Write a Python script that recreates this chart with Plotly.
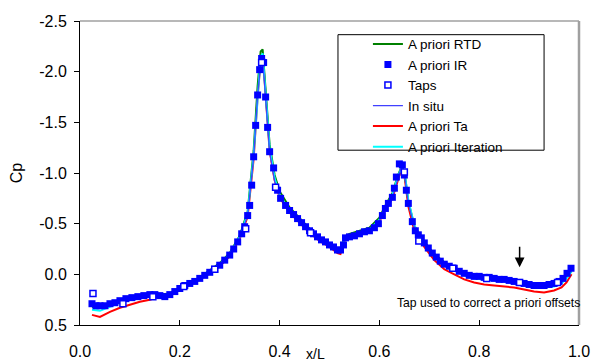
import plotly.graph_objects as go

# ---- measured data -------------------------------------------------------
# A priori IR (filled squares)
ir_x = [0.024, 0.032, 0.040, 0.050, 0.060, 0.070, 0.080, 0.092, 0.104, 0.116,
        0.128, 0.140, 0.150, 0.160, 0.170, 0.180, 0.190, 0.200, 0.210, 0.220,
        0.230, 0.240, 0.250, 0.260, 0.270, 0.280, 0.290, 0.300, 0.308, 0.316,
        0.324, 0.330, 0.336, 0.340, 0.344, 0.348, 0.352, 0.356, 0.360, 0.364,
        0.368, 0.372, 0.376, 0.380, 0.388, 0.396, 0.402, 0.412, 0.420, 0.428,
        0.436, 0.444, 0.452, 0.460, 0.468, 0.476, 0.484, 0.492, 0.500, 0.508,
        0.516, 0.522, 0.528, 0.532, 0.540, 0.550, 0.560, 0.570, 0.580, 0.590,
        0.598, 0.606, 0.612, 0.618, 0.626, 0.630, 0.634, 0.640, 0.646, 0.650,
        0.654, 0.658, 0.666, 0.672, 0.678, 0.684, 0.690, 0.698, 0.706, 0.714,
        0.722, 0.730, 0.740, 0.750, 0.760, 0.770, 0.780, 0.790, 0.800, 0.810,
        0.820, 0.830, 0.840, 0.850, 0.860, 0.870, 0.880, 0.890, 0.900, 0.910,
        0.920, 0.930, 0.940, 0.950, 0.960, 0.968, 0.976, 0.984]
ir_cp = [0.29, 0.31, 0.31, 0.31, 0.29, 0.28, 0.26, 0.24, 0.23, 0.22,
         0.21, 0.20, 0.20, 0.21, 0.22, 0.20, 0.17, 0.14, 0.11, 0.09,
         0.07, 0.04, 0.01, -0.02, -0.05, -0.09, -0.14, -0.19, -0.25, -0.32,
         -0.40, -0.47, -0.58, -0.68, -0.88, -1.16, -1.47, -1.77, -2.02, -2.13,
         -2.09, -1.75, -1.45, -1.21, -1.05, -0.83, -0.75, -0.68, -0.63, -0.59,
         -0.55, -0.51, -0.47, -0.43, -0.40, -0.37, -0.34, -0.32, -0.29, -0.27,
         -0.24, -0.24, -0.29, -0.36, -0.37, -0.38, -0.40, -0.42, -0.43, -0.46,
         -0.50, -0.58, -0.65, -0.70, -0.76, -0.85, -0.96, -1.09, -1.08, -0.98,
         -0.83, -0.70, -0.52, -0.43, -0.39, -0.36, -0.31, -0.26, -0.21, -0.17,
         -0.13, -0.10, -0.08, -0.06, -0.03, -0.01, 0.01, 0.02, 0.02, 0.03,
         0.03, 0.04, 0.05, 0.05, 0.06, 0.07, 0.08, 0.09, 0.10, 0.11,
         0.11, 0.11, 0.10, 0.09, 0.07, 0.04, -0.01, -0.06]

# Pressure taps (open squares)
tap_x = [0.026, 0.086, 0.146, 0.208, 0.270, 0.332, 0.364, 0.392, 0.462,
         0.650, 0.679, 0.747, 0.815, 0.881, 0.957]
tap_cp = [0.19, 0.29, 0.22, 0.12, -0.05, -0.45, -2.09, -0.86, -0.41,
          -1.01, -0.33, -0.06, 0.04, 0.08, 0.08]

# Line series share one chordwise grid
line_x = [0.024, 0.04, 0.06, 0.08, 0.10, 0.12, 0.14, 0.16, 0.18, 0.20,
          0.22, 0.24, 0.26, 0.28, 0.30, 0.32, 0.336, 0.348, 0.356, 0.362,
          0.366, 0.372, 0.380, 0.390, 0.40, 0.42, 0.44, 0.46, 0.48, 0.50,
          0.516, 0.522, 0.530, 0.54, 0.56, 0.58, 0.60, 0.612, 0.626, 0.636,
          0.644, 0.650, 0.658, 0.67, 0.69, 0.71, 0.73, 0.75, 0.77, 0.79,
          0.81, 0.83, 0.85, 0.87, 0.89, 0.91, 0.93, 0.95, 0.965, 0.975,
          0.985]
rtd_cp = [0.32, 0.33, 0.30, 0.27, 0.24, 0.22, 0.20, 0.20, 0.19, 0.13,
          0.08, 0.03, -0.04, -0.11, -0.21, -0.38, -0.62, -1.22, -1.86, -2.20,
          -2.22, -1.80, -1.28, -0.98, -0.82, -0.66, -0.55, -0.45, -0.36, -0.29,
          -0.24, -0.23, -0.37, -0.40, -0.43, -0.46, -0.56, -0.68, -0.80, -0.96,
          -1.06, -1.02, -0.72, -0.48, -0.32, -0.20, -0.12, -0.07, -0.02, 0.01,
          0.03, 0.04, 0.06, 0.08, 0.10, 0.12, 0.12, 0.10, 0.07, 0.03,
          -0.03]
insitu_cp = [0.30, 0.31, 0.29, 0.26, 0.23, 0.22, 0.20, 0.21, 0.20, 0.14,
             0.09, 0.04, -0.02, -0.09, -0.19, -0.36, -0.58, -1.16, -1.77, -2.08,
             -2.14, -1.75, -1.21, -0.92, -0.77, -0.63, -0.53, -0.43, -0.35, -0.29,
             -0.24, -0.23, -0.34, -0.37, -0.40, -0.43, -0.53, -0.65, -0.76, -0.93,
             -1.06, -1.00, -0.70, -0.47, -0.31, -0.19, -0.10, -0.06, -0.01, 0.02,
             0.03, 0.04, 0.05, 0.07, 0.09, 0.11, 0.11, 0.09, 0.06, 0.02,
             -0.04]
ta_cp = [0.40, 0.42, 0.37, 0.33, 0.30, 0.27, 0.25, 0.22, 0.20, 0.15,
         0.10, 0.05, -0.01, -0.08, -0.18, -0.35, -0.57, -1.14, -1.76, -2.10,
         -2.18, -1.76, -1.22, -0.93, -0.76, -0.61, -0.51, -0.41, -0.33, -0.27,
         -0.21, -0.20, -0.33, -0.36, -0.39, -0.42, -0.52, -0.64, -0.75, -0.91,
         -1.04, -0.98, -0.67, -0.43, -0.27, -0.14, -0.05, 0.00, 0.05, 0.08,
         0.10, 0.11, 0.12, 0.13, 0.15, 0.17, 0.18, 0.16, 0.13, 0.08,
         0.00]
iter_cp = [0.35, 0.36, 0.32, 0.28, 0.24, 0.22, 0.20, 0.21, 0.20, 0.14,
           0.09, 0.03, -0.03, -0.10, -0.20, -0.37, -0.60, -1.18, -1.80, -2.15,
           -2.18, -1.80, -1.25, -0.95, -0.78, -0.63, -0.53, -0.43, -0.35, -0.29,
           -0.24, -0.23, -0.35, -0.38, -0.41, -0.44, -0.54, -0.66, -0.78, -0.95,
           -1.05, -1.02, -0.73, -0.48, -0.31, -0.18, -0.09, -0.04, 0.01, 0.04,
           0.05, 0.06, 0.07, 0.09, 0.10, 0.12, 0.13, 0.12, 0.09, 0.04,
           -0.03]

# Tap used for the offset correction
ref_tap_x = 0.881
ref_tap_cp = -0.07

x_ticks = [0.0, 0.2, 0.4, 0.6, 0.8, 1.0]
y_ticks = [-2.5, -2.0, -1.5, -1.0, -0.5, 0.0, 0.5]

FONT = "Liberation Sans, Arial, sans-serif"

fig = go.Figure()

# drawn bottom to top; legendrank fixes the legend order
fig.add_trace(go.Scatter(x=line_x, y=ta_cp, mode="lines", name="A priori Ta",
                         line=dict(color="#ff0000", width=2), legendrank=5))
fig.add_trace(go.Scatter(x=line_x, y=rtd_cp, mode="lines", name="A priori RTD",
                         line=dict(color="#008000", width=2), legendrank=1))
fig.add_trace(go.Scatter(x=line_x, y=iter_cp, mode="lines", name="A priori Iteration",
                         line=dict(color="#00ffff", width=2), legendrank=6))
fig.add_trace(go.Scatter(x=line_x, y=insitu_cp, mode="lines", name="In situ",
                         line=dict(color="#4040ff", width=1.3), legendrank=4))
fig.add_trace(go.Scatter(x=ir_x, y=ir_cp, mode="markers", name="A priori IR",
                         marker=dict(symbol="square", size=7, color="#0000ff",
                                     line=dict(width=0)), legendrank=2))
fig.add_trace(go.Scatter(x=tap_x, y=tap_cp, mode="markers", name="Taps",
                         marker=dict(symbol="square", size=6, color="white",
                                     line=dict(color="#0000ff", width=1.5)),
                         legendrank=3))

fig.update_layout(
    width=592, height=361,
    margin=dict(l=80, r=13, t=21, b=36, autoexpand=False),
    paper_bgcolor="white", plot_bgcolor="white",
    font=dict(family=FONT, color="black"),
    showlegend=True,
    legend=dict(x=0.577, y=0.975, xanchor="left", yanchor="top",
                bgcolor="rgba(0,0,0,0)", borderwidth=0,
                font=dict(family=FONT, size=13.5, color="black"),
                itemwidth=30, traceorder="normal"),
    shapes=[
        # plot-area frame (top and right)
        dict(type="line", xref="paper", yref="paper", x0=0, x1=1, y0=1, y1=1,
             line=dict(color="#a0a0a0", width=1.5), layer="below"),
        dict(type="line", xref="paper", yref="paper", x0=1, x1=1, y0=0, y1=1,
             line=dict(color="#a0a0a0", width=2.5), layer="below"),
        # legend frame
        dict(type="rect", xref="paper", yref="paper",
             x0=0.517, x1=0.930, y0=0.575, y1=0.955,
             line=dict(color="black", width=1), fillcolor="white", layer="below"),
    ],
    annotations=[
        dict(x=ref_tap_x, y=ref_tap_cp, xref="x", yref="y", text="",
             showarrow=True, ax=0, ay=-22, arrowhead=2, arrowsize=1.3,
             arrowwidth=1.5, arrowcolor="black"),
        dict(x=1.0, y=0.287, xref="x", yref="y", xanchor="right", yanchor="middle",
             xshift=3, text="Tap used to correct a priori offsets", showarrow=False,
             font=dict(family=FONT, size=12.2, color="black")),
        dict(x=0.471, y=-0.062, xref="paper", yref="paper", xanchor="center",
             yanchor="top", text="x/L", showarrow=False,
             font=dict(family=FONT, size=14, color="black")),
    ],
)

fig.update_xaxes(range=[0, 1], tickvals=x_ticks, ticktext=[f"{v:.1f}" for v in x_ticks],
                 showline=True, linecolor="black", linewidth=1, mirror=False,
                 ticks="inside", ticklen=5, tickcolor="black", showgrid=False,
                 zeroline=False, ticklabelstandoff=12, automargin=False,
                 tickfont=dict(family=FONT, size=16, color="black"))
fig.update_yaxes(range=[0.5, -2.5], tickvals=y_ticks, ticktext=[f"{v:.1f}" for v in y_ticks],
                 showline=True, linecolor="black", linewidth=1, mirror=False,
                 ticks="outside", ticklen=5, tickcolor="black", showgrid=False,
                 zeroline=False, ticklabelstandoff=4, automargin=False,
                 tickfont=dict(family=FONT, size=16, color="black"),
                 title=dict(text="Cp", standoff=12,
                            font=dict(family=FONT, size=16, color="black")))

fig.write_html("out.html")
